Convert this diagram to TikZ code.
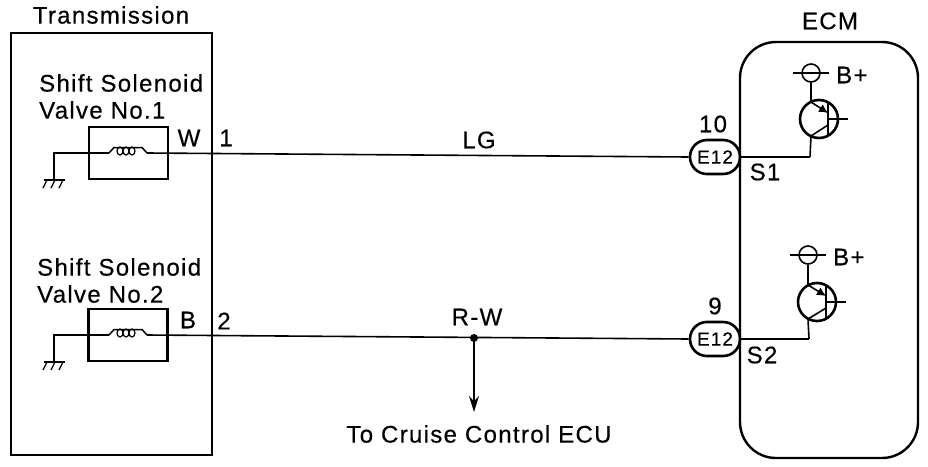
\documentclass[tikz,border=0pt]{standalone}
\usepackage{fontspec}
\setmainfont[LetterSpace=5.5,FakeBold=0.4]{Liberation Sans}
\usetikzlibrary{arrows.meta}
\tikzset{
	wire/.style={line width=1.6pt},
	frame/.style={draw, line width=2.4pt, inner sep=0pt},
	valvebox/.style={frame, line width=2.1pt, minimum width=79pt, minimum height=52pt},
	plug/.style={draw, line width=2.6pt, rounded corners=16.9pt, minimum width=50pt, minimum height=34pt, inner sep=0pt, font=\fontsize{19}{19}\selectfont},
	lbl/.style={inner sep=0pt, font=\fontsize{24}{24}\selectfont},
	% coil symbol, origin on the wire
	coil/.pic={
		\draw[line width=1.5pt] (-19,0) -- (-14,-5.5) -- (14,-5.5) -- (19,0);
		\foreach \x in {-8, -2, 4}
			\draw[line width=1.2pt] (\x,-2) ellipse (3pt and 4pt);
	},
	% ground symbol, origin on top of the hatch
	earth/.pic={
		\draw[line width=1.3pt] (-10,0) -- (11,0);
		\foreach \x in {-7, 1, 9}
			\draw[line width=1.3pt] (\x,0) -- ++(-4,8);
	}
}
\begin{document}
\begin{tikzpicture}[x=1pt, y=-1pt]
	\useasboundingbox (0,0) rectangle (928,466);
	% housings
	\node[frame, minimum width=201pt, minimum height=422pt] (trans) at (111.5,244) {};
	\node[frame, minimum width=178pt, minimum height=416pt, rounded corners=36pt] (ecm) at (829,250) {};
	\node[lbl] (transtxt) at (111,15) {Transmission};
	\node[lbl] (ecmtxt) at (830,21) {ECM};

	% solenoid valves
	\node[valvebox] (valve1) at (128.5,153) {};
	\node[valvebox] (valve2) at (128,335) {};
	\foreach \n/\y in {1/153, 2/335}
	{
		\pic at (128,\y) {coil};
		\coordinate (coilL\n) at (109,\y);
		\coordinate (coilR\n) at (147,\y);
		\coordinate (gnd\n) at (54,\y);
		\coordinate (gndend\n) at (54,\y+27);
		\pic at (54,\y+27) {earth};
		\draw[wire] (gndend\n) -- (gnd\n) -- (coilL\n);
	}
	\node[lbl, anchor=west] (name1) at (39,83) {Shift Solenoid};
	\node[lbl, anchor=west] (sub1) at (39,110) {Valve No.1};
	\node[lbl, anchor=west] (name2) at (37,267) {Shift Solenoid};
	\node[lbl, anchor=west] (sub2) at (37,294) {Valve No.2};

	% connectors at the ECM
	\node[plug] (plug1) at (715,157) {E12};
	\node[plug] (plug2) at (715,339) {E12};
	\node[lbl] (pin10) at (713,124) {10};
	\node[lbl] (pin9) at (715,306) {9};
	\coordinate (s1) at (810,157);
	\coordinate (s2) at (809,339);
	\node[lbl] (s1txt) at (765,172) {S1};
	\node[lbl] (s2txt) at (762,355) {S2};

	% main wires
	\draw[wire] (coilR1) -- (plug1.west);
	\draw[wire] (coilR2) -- (plug2.west);
	\draw[wire] (plug1.east) -- (s1);
	\draw[wire] (plug2.east) -- (s2);
	\node[lbl] (w) at (189,138) {W};
	\node[lbl] (one) at (226,138) {1};
	\node[lbl] (b) at (188,320) {B};
	\node[lbl] (two) at (224,321) {2};
	\node[lbl] (lg) at (479,140) {LG};
	\node[lbl] (rw) at (477,317) {R-W};

	% branch to cruise control
	\fill (474,338) circle (4pt) coordinate (tap);
	\node[lbl] (cruise) at (479,434) {To Cruise Control ECU};
	\draw[wire, -{Stealth[length=16pt,width=10pt]}] (tap) -- (474,412) coordinate (tapend);

	% transistors
	\foreach \n/\cx/\cy/\bx/\by/\cc in {1/819/119/811/73/s1, 2/817/302/808/255/s2}
	{
		\node[draw, circle, line width=2.6pt, minimum size=38pt, inner sep=0pt] (tr\n) at (\cx,\cy) {};
		\node[draw, circle, line width=1.6pt, minimum size=18pt, inner sep=0pt] (bat\n) at (\bx,\by) {};
		\node[lbl, anchor=west] (bplus\n) at (\bx+25,\by+2) {B+};
		\draw[wire] (\bx-18,\by) -- (\bx+18,\by);
		\draw[line width=2.4pt] (\cx+9,\cy-16) -- (\cx+9,\cy+16);
		\draw[wire] (\cx+9,\cy) -- (\cx+29,\cy);
		\draw[wire, -{Latex[length=9pt,width=9pt]}] (bat\n.south) -- (\bx,\cy-17) -- (\cx+9,\cy-6);
		\draw[wire] (\cx+9,\cy+6) -- (\bx,\cy+17) -- (\cc);
	}
\end{tikzpicture}
\end{document}
